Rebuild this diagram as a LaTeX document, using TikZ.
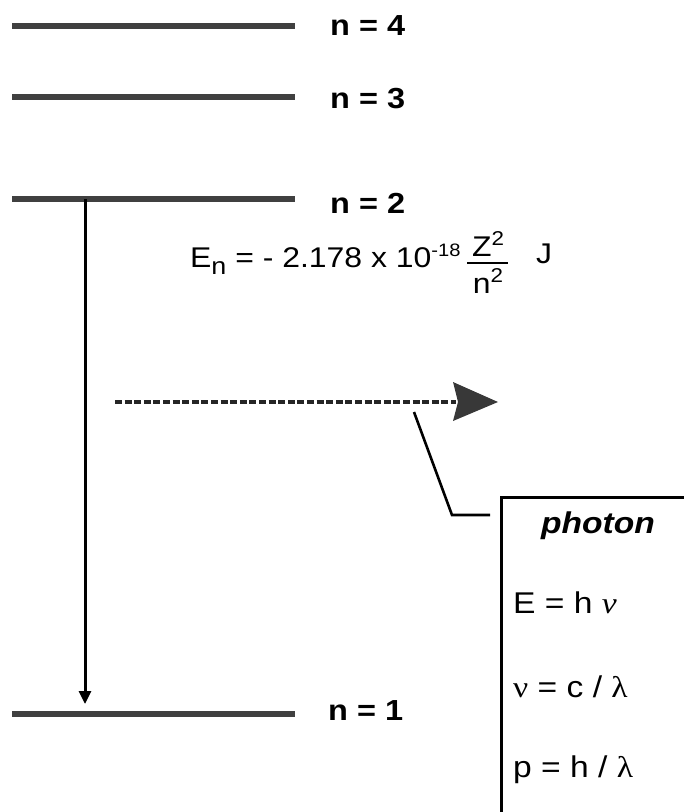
\documentclass[tikz,border=0pt]{standalone}
\usepackage{fontspec}
\setmainfont{Liberation Sans}
\newfontfamily\seriffont{Liberation Serif}
\usetikzlibrary{arrows.meta}
\newcommand{\stretchtext}[1]{\scalebox{1.12}[1]{#1}}
\begin{document}
\begin{tikzpicture}[x=1pt,y=-1pt,
  level/.style={line width=5.5pt, draw=black!75},
  lvllabel/.style={font=\fontsize{29}{30}\selectfont\bfseries, anchor=base west, inner sep=0pt},
  eqtext/.style={font=\fontsize{28.5}{30}\selectfont, inner sep=0pt},
  boxtext/.style={font=\fontsize{30}{32}\selectfont, anchor=base west, inner sep=0pt},
  leader/.style={line width=2.6pt, line join=miter},
]
\useasboundingbox (0,0) rectangle (684,812);
% energy levels
\coordinate (l4a) at (12,26);  \coordinate (l4b) at (295,26);
\coordinate (l3a) at (12,97);  \coordinate (l3b) at (295,97);
\coordinate (l2a) at (12,199); \coordinate (l2b) at (295,199);
\coordinate (l1a) at (12,714); \coordinate (l1b) at (295,714);
\draw[level] (l4a) -- (l4b);
\draw[level] (l3a) -- (l3b);
\draw[level] (l2a) -- (l2b);
\draw[level] (l1a) -- (l1b);
\node[lvllabel] (n4) at (330,35) {\stretchtext{n = 4}};
\node[lvllabel] (n3) at (330,108) {\stretchtext{n = 3}};
\node[lvllabel] (n2) at (330,213) {\stretchtext{n = 2}};
\node[lvllabel] (n1) at (328,720) {\stretchtext{n = 1}};
% transition
\coordinate (ts) at (85,199);
\coordinate (te) at (85,704);
\draw[line width=3pt, -{Triangle[length=13pt,width=12pt]}] (ts) -- (te);
% energy formula
\node[eqtext, anchor=base west] (eq) at (190,267)
  {\stretchtext{E\raisebox{-7pt}{\fontsize{24}{24}\selectfont n} = - 2.178 x 10\raisebox{11pt}{\fontsize{18}{18}\selectfont -18}}};
\node[eqtext, anchor=base] (zz) at (488,256) {\stretchtext{Z\raisebox{11pt}{\fontsize{20}{20}\selectfont 2}}};
\node[eqtext, anchor=base] (nn) at (488,293) {\stretchtext{n\raisebox{11pt}{\fontsize{20}{20}\selectfont 2}}};
\coordinate (fb1) at (467,263); \coordinate (fb2) at (508,263);
\draw[line width=1.5pt] (fb1) -- (fb2);
\node[eqtext, anchor=base west] (jj) at (536,263) {\stretchtext{J}};
% photon
\coordinate (ds) at (115,402);
\coordinate (de) at (456,402);
\draw[line width=4pt, black!85, dash pattern=on 7pt off 2.6pt] (ds) -- (de);
\fill[black!78] (453,382) -- (498,402) -- (453,421) -- (458,402) -- cycle;
% leader to box
\coordinate (ld1) at (414,412);
\coordinate (ld2) at (452,515);
\coordinate (ld3) at (490,515);
\draw[leader] (ld1) -- (ld2) -- (ld3);
\node[draw, line width=3pt, anchor=north west, minimum width=260pt, minimum height=400pt, inner sep=0pt] (pbox) at (500,496) {};
\node[font=\fontsize{30}{32}\selectfont\bfseries\itshape, anchor=base, inner sep=0pt] (ph) at (598,533) {\stretchtext{photon}};
\node[boxtext] (r1) at (513,613) {\stretchtext{E = h {\seriffont\itshape v}}};
\node[boxtext] (r2) at (513,697) {\stretchtext{{\seriffont ν} = c / {\seriffont λ}}};
\node[boxtext] (r3) at (513,777) {\stretchtext{p = h / {\seriffont λ}}};
\end{tikzpicture}
\end{document}
